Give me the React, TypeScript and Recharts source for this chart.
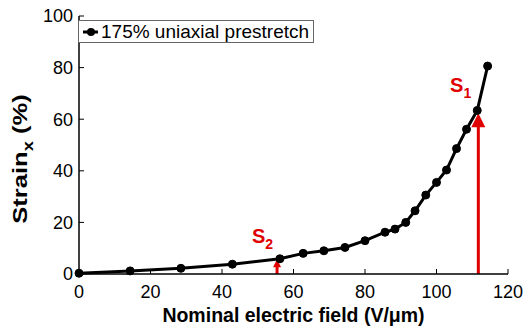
import React from 'react';
import { LineChart, Line, XAxis, YAxis, Legend, ReferenceLine, ReferenceDot } from 'recharts';

// nominal field (V/um) vs strain x (%)
const field = [0, 14.3, 28.5, 42.9, 56.2, 62.7, 68.5, 74.4, 80.0, 85.6, 88.4, 91.4, 94.0, 97.0, 100.0, 102.8, 105.6, 108.4, 111.4, 114.3];
const strain = [0.3, 1.2, 2.2, 3.8, 5.9, 8.0, 9.0, 10.3, 12.9, 16.2, 17.4, 20.0, 24.5, 30.6, 35.5, 40.3, 48.6, 56.1, 63.4, 80.6];
const xTicks = [0, 20, 40, 60, 80, 100, 120];
const yTicks = [0, 20, 40, 60, 80, 100];

// S1 / S2 markers
const arrowX = [111.7, 55.4];
const arrowTip = [62.3, 5.7];
const arrowHead = [14, 8];
const markSub = ['1', '2'];
const markX = [103.8, 48.4];
const markY = [70.5, 12];

const seriesName = '175% uniaxial prestretch';

const data = field.map((x, i) => ({ x, strain: strain[i] }));

const FONT = '"Liberation Sans", Arial, Helvetica, sans-serif';
const RED = '#e00000';
const TICK = 5;
const X_MARGIN = 11;
const Y_MARGIN = 6;

const BottomTick = (p: any) => {
  const axisY = p.y - X_MARGIN;
  return (
    <g>
      <line x1={p.x} x2={p.x} y1={axisY} y2={axisY - TICK} stroke="#000" />
      <text x={p.x} y={p.y} dy="0.71em" textAnchor="middle" fontSize={18} fontFamily={FONT} fill="#000">
        {p.payload.value}
      </text>
    </g>
  );
};

const TopTick = (p: any) => (
  <line x1={p.x} x2={p.x} y1={p.y} y2={p.y + TICK} stroke="#000" />
);

const LeftTick = (p: any) => {
  const axisX = p.x + Y_MARGIN;
  return (
    <g>
      <line x1={axisX} x2={axisX + TICK} y1={p.y} y2={p.y} stroke="#000" />
      <text x={p.x} y={p.y} dy="0.35em" textAnchor="end" fontSize={18} fontFamily={FONT} fill="#000">
        {p.payload.value}
      </text>
    </g>
  );
};

const RightTick = (p: any) => (
  <line x1={p.x} x2={p.x - TICK} y1={p.y} y2={p.y} stroke="#000" />
);

const LegendBox = () => (
  <div
    style={{
      boxSizing: 'border-box',
      width: 236,
      height: 23,
      border: '1px solid #666',
      background: '#fff',
      display: 'flex',
      alignItems: 'center',
      fontFamily: FONT,
      fontSize: 19,
      color: '#000',
      whiteSpace: 'nowrap',
    }}
  >
    <svg width={20} height={12} style={{ marginLeft: 2 }}>
      <line x1={2} x2={17} y1={6} y2={6} stroke="#000" strokeWidth={3} />
      <circle cx={10} cy={6} r={4} fill="#000" />
    </svg>
    <span>{seriesName}</span>
  </div>
);

const makeArrow = (head: number) => (p: any) => {
  const x = p.x1;
  const top = Math.min(p.y1, p.y2);
  const bottom = Math.max(p.y1, p.y2);
  return (
    <g>
      <line x1={x} x2={x} y1={bottom} y2={top + head - 1} stroke={RED} strokeWidth={3} />
      <polygon points={`${x},${top} ${x - head / 2},${top + head} ${x + head / 2},${top + head}`} fill={RED} />
    </g>
  );
};

const makeMark = (sub: string) => (p: any) => (
  <text x={p.cx} y={p.cy} fontFamily={FONT} fontWeight="bold" fontSize={20} fill={RED}>
    S
    <tspan fontSize={14} dy={6}>{sub}</tspan>
  </text>
);

const YLabel = (p: any) => {
  const vb = p.viewBox;
  const cx = vb.x + 20;
  const cy = vb.y + vb.height / 2 + 14;
  // the reference is a bit stretched vertically, so stretch along the text
  return (
    <text
      x={0}
      y={0}
      transform={`translate(${cx} ${cy}) rotate(-90) scale(1.22 1)`}
      textAnchor="middle"
      dy="0.35em"
      fontFamily={FONT}
      fontWeight="bold"
      fontSize={21}
      fill="#000"
    >
      Strain
      <tspan fontSize={15} dy={6}>x</tspan>
      <tspan dy={-6}> (%)</tspan>
    </text>
  );
};

const XLabel = (p: any) => {
  const vb = p.viewBox;
  return (
    <text
      x={vb.x + vb.width / 2}
      y={vb.y + 48}
      textAnchor="middle"
      fontFamily={FONT}
      fontWeight="bold"
      fontSize={19.5}
      fill="#000"
    >
      Nominal electric field (V/μm)
    </text>
  );
};

export default function App() {
  return (
    <div style={{ position: 'absolute', left: 0, top: 0, width: 525, height: 333, background: '#fff' }}>
      <LineChart width={525} height={333} data={data} margin={{ top: 16, right: 17, left: 0, bottom: 0 }}>
        <XAxis
          dataKey="x"
          type="number"
          domain={[0, 120]}
          ticks={xTicks}
          interval={0}
          height={59}
          tickSize={0}
          tickMargin={X_MARGIN}
          tick={<BottomTick />}
          axisLine={{ stroke: '#000', strokeWidth: 1.5 }}
          label={{ content: XLabel }}
        />
        <XAxis
          xAxisId="top"
          orientation="top"
          type="number"
          domain={[0, 120]}
          allowDataOverflow
          ticks={xTicks}
          interval={0}
          height={0}
          tickSize={0}
          tickMargin={0}
          tick={<TopTick />}
          axisLine={{ stroke: '#000', strokeWidth: 1.5 }}
        />
        <YAxis
          type="number"
          domain={[0, 100]}
          ticks={yTicks}
          interval={0}
          width={79}
          tickSize={0}
          tickMargin={Y_MARGIN}
          tick={<LeftTick />}
          axisLine={{ stroke: '#000', strokeWidth: 1.5 }}
          label={{ content: YLabel }}
        />
        <YAxis
          yAxisId="right"
          orientation="right"
          type="number"
          domain={[0, 100]}
          allowDataOverflow
          ticks={yTicks}
          interval={0}
          width={0}
          tickSize={0}
          tickMargin={0}
          tick={<RightTick />}
          axisLine={{ stroke: '#000', strokeWidth: 1.5 }}
        />
        <Legend
          layout="vertical"
          verticalAlign="middle"
          align="center"
          content={() => <LegendBox />}
          wrapperStyle={{ position: 'absolute', left: 78, top: 20, width: 236, height: 23, margin: 0 }}
        />
        <Line
          dataKey="strain"
          name={seriesName}
          type="linear"
          stroke="#000"
          strokeWidth={3}
          dot={{ r: 4, fill: '#000', stroke: '#000', strokeWidth: 1 }}
          activeDot={false}
          isAnimationActive={false}
        />
        {arrowX.map((x, i) => (
          <ReferenceLine
            key={`arrow-${i}`}
            segment={[{ x, y: 0 }, { x, y: arrowTip[i] }]}
            shape={makeArrow(arrowHead[i])}
          />
        ))}
        {markX.map((x, i) => (
          <ReferenceDot key={`mark-${i}`} x={x} y={markY[i]} r={0} shape={makeMark(markSub[i])} />
        ))}
      </LineChart>
    </div>
  );
}
